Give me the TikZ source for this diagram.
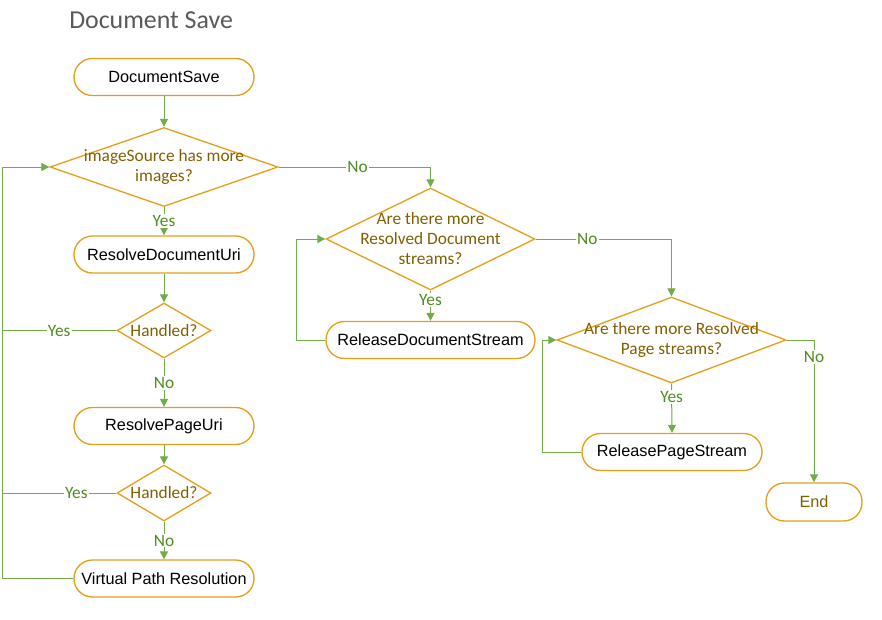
\documentclass[tikz,border=0pt]{standalone}
\usepackage{fontspec}
\setmainfont{Liberation Sans}
\newfontfamily\cali{Carlito}
\usetikzlibrary{shapes.geometric,arrows.meta}
\definecolor{boxline}{RGB}{228,160,28}
\definecolor{flowgreen}{RGB}{112,173,71}
\definecolor{lblgreen}{RGB}{78,140,32}
\definecolor{qbrown}{RGB}{127,96,0}
\definecolor{titlegray}{RGB}{89,89,89}
\tikzset{
  procbox/.style={draw=boxline,line width=1pt,rounded corners=13.8pt,minimum width=135pt,minimum height=27.75pt,inner sep=0pt,font=\fontsize{12.2}{14}\selectfont},
  decision/.style={draw=boxline,line width=1pt,shape=diamond,inner sep=0pt},
  qtext/.style={text=qbrown,align=center,inner sep=0pt,font=\cali\fontsize{13}{15}\selectfont},
  flowline/.style={draw=flowgreen,line width=0.75pt},
  flow/.style={flowline,-{Triangle[width=6pt,length=6pt]}},
  yesno/.style={text=lblgreen,fill=white,inner sep=1pt,font=\cali\fontsize{13}{14}\selectfont},
}
\begin{document}
\begin{tikzpicture}[x=0.75pt,y=0.75pt,yscale=-1,xscale=1]
\useasboundingbox (0,0) rectangle (882,619);

% Title
\node[anchor=west,text=titlegray,inner sep=0pt,font=\cali\fontsize{19.4}{22}\selectfont] (title) at (69,20) {Document Save};

% left column
\node[procbox] (ds) at (164,77) {DocumentSave};
\node[decision,minimum width=171pt,minimum height=59.25pt,label={[qtext,name=d1t]center:imageSource has more\\images?}] (d1) at (164,167) {};
\node[procbox] (rdu) at (164,254.5) {ResolveDocumentUri};
\node[decision,minimum width=70.5pt,minimum height=41.25pt,label={[qtext,name=h1t]center:Handled?}] (h1) at (164,330.5) {};
\node[procbox] (rpu) at (164,426) {ResolvePageUri};
\node[decision,minimum width=70.5pt,minimum height=42pt,label={[qtext,name=h2t]center:Handled?}] (h2) at (164,493) {};
\node[procbox] (vpr) at (164,578.5) {Virtual Path Resolution};

% middle column
\node[decision,minimum width=156.75pt,minimum height=76.5pt,label={[qtext,name=d2t]center:Are there more\\Resolved Document\\streams?}] (d2) at (430.5,239) {};
\node[procbox,minimum width=156.75pt] (rds) at (430.5,340) {ReleaseDocumentStream};

% right column
\node[decision,minimum width=171.75pt,minimum height=64.5pt,label={[qtext,name=d3t,font=\cali\fontsize{13}{14.5}\selectfont]center:Are there more Resolved\\Page streams?}] (d3) at (671.5,340) {};
\node[procbox] (rps) at (672,452) {ReleasePageStream};
\node[procbox,minimum width=72pt,minimum height=28.5pt,text=qbrown] (end) at (814,502) {End};

% rail of the outer loop
\coordinate (railL) at (2,0);

% connectors
\draw[flow] (ds) -- (d1);
\draw[flow] (d1) -- node[yesno] (y1) {Yes} (rdu);
\draw[flow] (rdu) -- (h1);
\draw[flow] (h1) -- node[yesno] (n1) {No} (rpu);
\draw[flowline] (h1.west) -- node[yesno] (y2) {Yes} (h1.west -| railL);
\draw[flow] (rpu) -- (h2);
\draw[flow] (h2) -- node[yesno] (n2) {No} (vpr);
\draw[flowline] (h2.west) -- node[yesno,pos=0.35] (y3) {Yes} (h2.west -| railL);
\draw[flow] (vpr.west) -- (vpr.west -| railL) |- (d1.west);

\draw[flow] (d1.east) -| node[yesno,pos=0.26] (n3) {No} (d2.north);
\draw[flow] (d2.south) -- node[yesno,pos=0.3] (y4) {Yes} (rds.north);
\draw[flow] (rds.west) -- ++(-29,0) |- (d2.west);

\draw[flow] (d2.east) -| node[yesno,pos=0.19] (n4) {No} (d3.north);
\draw[flow] (d3.south) -- node[yesno,pos=0.28] (y5) {Yes} (rps.north);
\draw[flow] (rps.west) -- ++(-39,0) |- (d3.west);

\draw[flow] (d3.east) -| node[yesno,pos=0.56] (n5) {No} (end.north);
\end{tikzpicture}
\end{document}
